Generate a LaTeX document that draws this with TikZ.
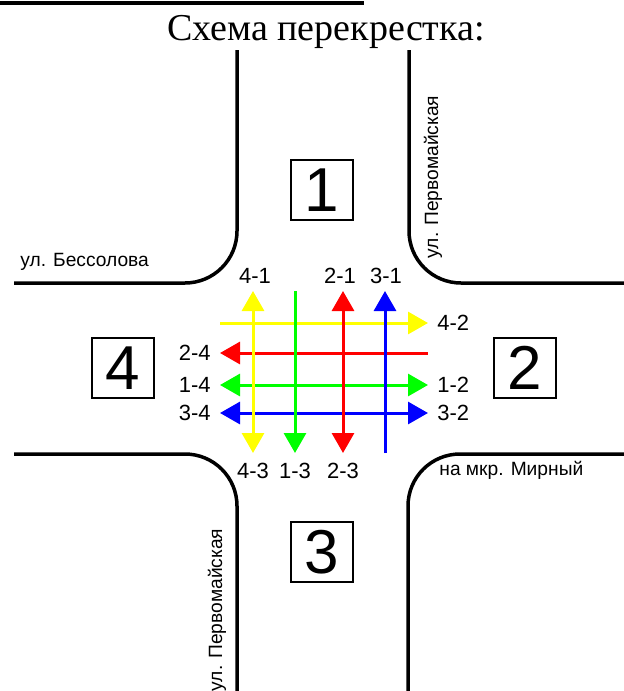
\documentclass[tikz,border=0pt]{standalone}
\usepackage{fontspec}
\setmainfont{Liberation Serif}
\setsansfont{Liberation Sans}
\usetikzlibrary{arrows.meta}
\definecolor{flowyellow}{RGB}{255,255,0}
\definecolor{flowred}{RGB}{255,0,0}
\definecolor{flowgreen}{RGB}{0,255,0}
\definecolor{flowblue}{RGB}{0,0,255}
\tikzset{
  road/.style={line width=1.75pt, rounded corners=26pt},
  move/.style={line width=1.5pt},
  turn/.style={font=\sffamily\fontsize{11}{11}\selectfont, inner sep=1pt},
  zonebox/.style={draw, line width=0.7pt, minimum width=31pt, minimum height=30pt, inner sep=0pt, font=\sffamily\fontsize{31}{31}\selectfont},
  street/.style={font=\sffamily\fontsize{9.6}{10}\selectfont, inner sep=0pt},
  >={Triangle[length=10pt,width=11pt]}
}
\begin{document}
\begin{tikzpicture}[x=0.5pt,y=-0.5pt]
\useasboundingbox (0,0) rectangle (624,691);
\draw[line width=2pt] (0,3) -- (364,3);
\node[anchor=base, font=\fontsize{19}{20}\selectfont, inner sep=0pt] (title) at (326,40) {Схема перекрестка:};
% edit here for the kerbs
\draw[road] (237,50) -- (237,283) -- (14,283);
\draw[road] (409,50) -- (409,283) -- (624,283);
\draw[road] (14,454) -- (237,454) -- (237,691);
\draw[road] (624,454) -- (408,454) -- (408,691);
% edit here for the street names
\node[street, anchor=west] (bessolova) at (20,262) {ул. Бессолова};
\node[street, rotate=90] (pervomN) at (433,177) {ул. Первомайская};
\node[street, rotate=90] (pervomS) at (217,610) {ул. Первомайская};
\node[street, anchor=west] (mirny) at (439,470) {на мкр. Мирный};
% edit here for the approach boxes
\foreach \n/\x/\y in {1/322/190, 2/525/368, 3/322/552, 4/123/368}
\node[zonebox] (zone\n) at (\x,\y) {\n};
% edit here for the ends of the lanes
\foreach \n/\x in {ya/253, gr/295, rd/343, bl/385}
{\coordinate (\n-s) at (\x,453); \coordinate (\n-n) at (\x,291);}
\foreach \n/\y in {ya/323, rd/353, gr/385, bl/413}
{\coordinate (\n-w) at (220,\y); \coordinate (\n-e) at (428,\y);}
% horizontal moves
\draw[move, flowyellow, ->] (ya-w) -- (ya-e);
\draw[move, flowred, <-] (rd-w) -- (rd-e);
\draw[move, flowgreen, <->] (gr-w) -- (gr-e);
\draw[move, flowblue, <->] (bl-w) -- (bl-e);
% vertical moves
\draw[move, flowyellow, <->] (ya-s) -- (ya-n);
\draw[move, flowgreen, <-] (gr-s) -- (gr-n);
\draw[move, flowred, <->] (rd-s) -- (rd-n);
\draw[move, flowblue, ->] (bl-s) -- (bl-n);
% edit here for the move names
\foreach \t/\x in {4-1/255, 2-1/340, 3-1/386}
\node[turn] (n\t) at (\x,276) {\t};
\foreach \t/\x in {4-3/253, 1-3/295, 2-3/343}
\node[turn] (s\t) at (\x,471) {\t};
\foreach \t/\y in {2-4/353, 1-4/385, 3-4/413}
\node[turn, anchor=east] (w\t) at (213,\y) {\t};
\foreach \t/\y in {4-2/323, 1-2/385, 3-2/413}
\node[turn, anchor=west] (e\t) at (435,\y) {\t};
\end{tikzpicture}
\end{document}
